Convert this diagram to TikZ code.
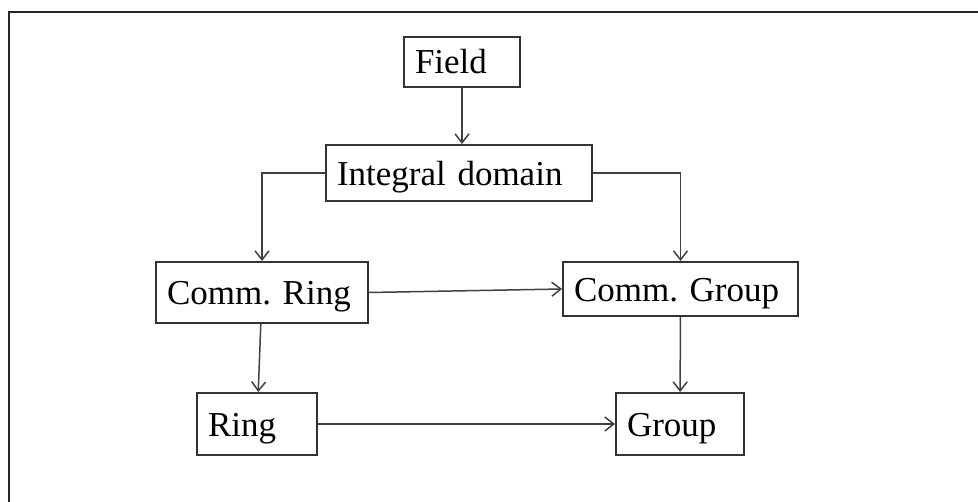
\documentclass[tikz,border=0pt]{standalone}
\usepackage{fontspec}
\setmainfont{Liberation Serif}
\usepackage{tikz}
\usetikzlibrary{arrows,arrows.meta,positioning,calc}
\frenchspacing

\begin{document}
\begin{tikzpicture}[x=0.5pt,y=-0.5pt,>={Straight Barb[length=4.5pt,width=7pt]},
	box/.style={draw=black!80, line width=1pt, rectangle, inner xsep=5.5pt, inner ysep=0pt, align=left, text height=13pt, text depth=1pt, font=\fontsize{17.5}{20}\selectfont},
	link/.style={->, draw=black!75, line width=0.75pt}]
	\useasboundingbox (0,0) rectangle (978,502);
	\draw [black!85, line width=1.2pt] (978,12) -- (9,12) -- (9,502);
	% the six structures
	\node[box, text width=47pt, minimum height=25pt] (field) at (462,62) {Field};
	\node[box, text width=122pt, minimum height=28pt] (int) at (459,173) {Integral domain};
	\node[box, text width=95pt, minimum height=30.5pt] (cring) at (262,292.5) {Comm. Ring};
	\node[box, text width=106.5pt, minimum height=27pt] (cgroup) at (680.5,289) {Comm. Group};
	\node[box, text width=49pt, minimum height=31pt] (ring) at (257,424) {Ring};
	\node[box, text width=53pt, minimum height=31pt] (group) at (680,424) {Group};
	% inclusions
	\draw [link] (field) -- (field |- int.north);
	\draw [link] (int.west) -| (cring.north);
	\draw [link] (int.east) -| (cgroup.north);
	\draw [link] (cring.east) -- (cgroup.west);
	\draw [link] (cring) -- (ring);
	\draw [link] (cgroup) -- (group);
	\draw [link] (ring) -- (group);
\end{tikzpicture}
\end{document}
